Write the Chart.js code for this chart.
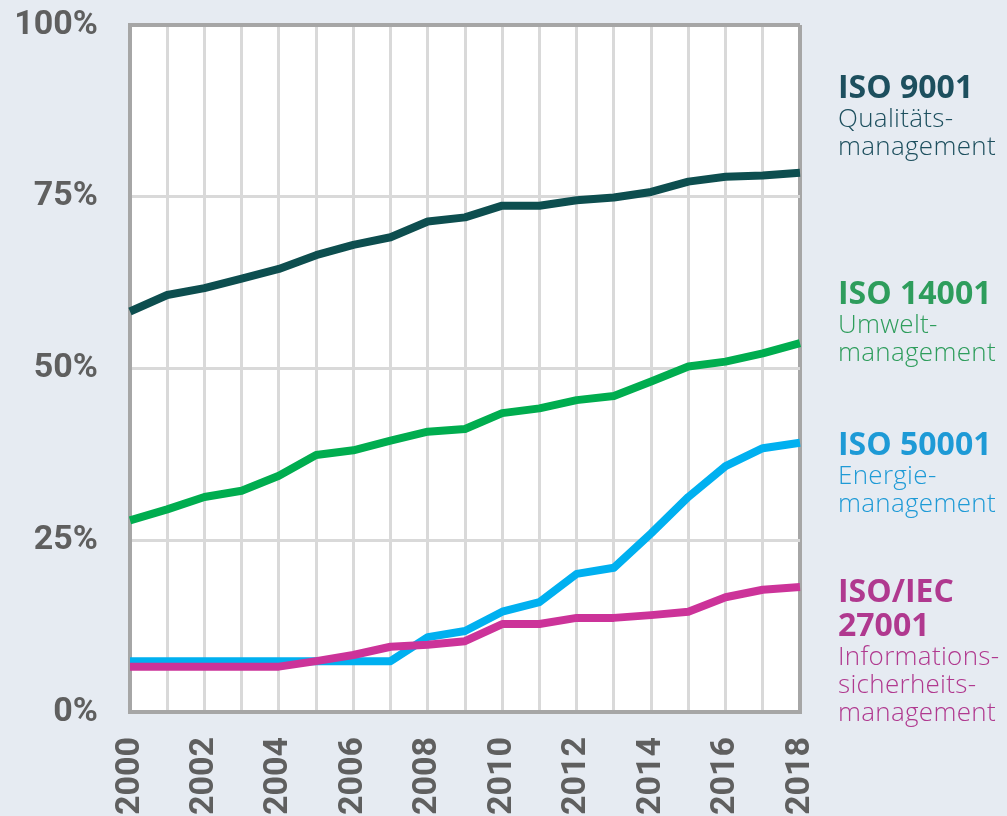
<!DOCTYPE html>
<html>
<head>
<meta charset="utf-8">
<script src="https://cdn.jsdelivr.net/npm/chart.js@4"></script>
<style>
  html, body { margin: 0; padding: 0; background: #e6ebf2; }
  #wrap { position: relative; width: 1007px; height: 816px; overflow: hidden; }
  canvas { position: absolute; left: 0; top: 0; }
  .lbl { position: absolute; left: 838px; font-family: "Open Sans", sans-serif; white-space: nowrap; }
  .lbl .t { font-weight: 700; font-size: 32px; line-height: 34px; letter-spacing: 0px; }
  .lbl .s { font-weight: 300; font-size: 26px; line-height: 28px; letter-spacing: 0.3px; }
</style>
</head>
<body>
<div id="wrap">
  <canvas id="chart" width="1007" height="816"></canvas>
  <div class="lbl" style="top:69px;color:#1d4f5e"><div class="t">ISO 9001</div><div class="s">Qualitäts-</div><div class="s">management</div></div>
  <div class="lbl" style="top:275px;color:#2e9d5c"><div class="t">ISO 14001</div><div class="s">Umwelt-</div><div class="s">management</div></div>
  <div class="lbl" style="top:426px;color:#1e9ad6"><div class="t">ISO 50001</div><div class="s">Energie-</div><div class="s">management</div></div>
  <div class="lbl" style="top:573px;color:#b0398f"><div class="t">ISO/IEC</div><div class="t">27001</div><div class="s">Informations-</div><div class="s">sicherheits-</div><div class="s">management</div></div>
</div>
<script>
// Years on the x axis
const years = ["2000", "2001", "2002", "2003", "2004", "2005", "2006", "2007", "2008", "2009",
  "2010", "2011", "2012", "2013", "2014", "2015", "2016", "2017", "2018"];

// Share in percent
const iso9001 = [58.3, 60.7, 61.7, 63.1, 64.5, 66.5, 68.0, 69.1, 71.4, 72.0,
  73.7, 73.7, 74.5, 74.9, 75.7, 77.2, 77.9, 78.1, 78.5];
const iso14001 = [27.9, 29.5, 31.3, 32.2, 34.4, 37.4, 38.1, 39.5, 40.8, 41.2,
  43.5, 44.2, 45.4, 46.0, 48.1, 50.3, 51.0, 52.2, 53.7];
const iso50001 = [7.4, 7.4, 7.4, 7.4, 7.4, 7.4, 7.4, 7.4, 10.9, 11.8,
  14.6, 16.0, 20.1, 21.0, 26.0, 31.3, 35.8, 38.4, 39.2];
const iso27001 = [6.6, 6.6, 6.6, 6.6, 6.6, 7.4, 8.3, 9.5, 9.8, 10.3,
  12.8, 12.8, 13.7, 13.7, 14.1, 14.6, 16.7, 17.8, 18.2];

const yTicks = [0, 25, 50, 75, 100];

const frameColor = "#a6a6a6";
const gridColor = "#d9d9d9";
const tickFont = { family: "Roboto", size: 34, weight: "bold" };

// white plot background
const plotBackground = {
  id: "plotBackground",
  beforeDraw(chart) {
    const { ctx, chartArea: a } = chart;
    ctx.save();
    ctx.fillStyle = "#ffffff";
    ctx.fillRect(a.left, a.top, a.right - a.left, a.bottom - a.top);
    ctx.restore();
  },
};

function series(data, color) {
  return {
    data: data,
    borderColor: color,
    borderWidth: 8,
    borderJoinStyle: "round",
    pointRadius: 0,
    tension: 0,
    fill: false,
  };
}

new Chart(document.getElementById("chart"), {
  type: "line",
  data: {
    labels: years,
    datasets: [
      series(iso27001, "#cc3399"),
      series(iso50001, "#00b0f0"),
      series(iso14001, "#00ad4f"),
      series(iso9001, "#0d4e4f"),
    ],
  },
  options: {
    responsive: false,
    animation: false,
    layout: { padding: { top: 25, right: 207, left: 0, bottom: 0 } },
    plugins: { legend: { display: false }, tooltip: { enabled: false } },
    scales: {
      x: {
        offset: false,
        afterFit(scale) {
          scale.height = 104;
        },
        grid: {
          drawTicks: false,
          color: (c) => (c.index === years.length - 1 ? frameColor : gridColor),
          lineWidth: (c) => (c.index === years.length - 1 ? 4 : 3),
        },
        border: { color: frameColor, width: 4 },
        ticks: {
          autoSkip: false,
          maxRotation: 90,
          minRotation: 90,
          padding: 25,
          color: "#5f5f5f",
          font: tickFont,
          callback: function (value, index) {
            return index % 2 === 0 ? this.getLabelForValue(value) : "";
          },
        },
      },
      y: {
        min: 0,
        max: 100,
        afterFit(scale) {
          scale.width = 130;
          scale.paddingTop = 0;
          scale.paddingBottom = 0;
        },
        afterBuildTicks(scale) {
          scale.ticks = yTicks.map((v) => ({ value: v }));
        },
        grid: {
          drawTicks: false,
          color: (c) => (c.tick && c.tick.value === 100 ? frameColor : gridColor),
          lineWidth: (c) => (c.tick && c.tick.value === 100 ? 4 : 3),
        },
        border: { color: frameColor, width: 4 },
        ticks: {
          padding: 32,
          color: "#5f5f5f",
          font: tickFont,
          callback: (v) => v + "%",
        },
      },
    },
  },
  plugins: [plotBackground],
});
</script>
</body>
</html>
